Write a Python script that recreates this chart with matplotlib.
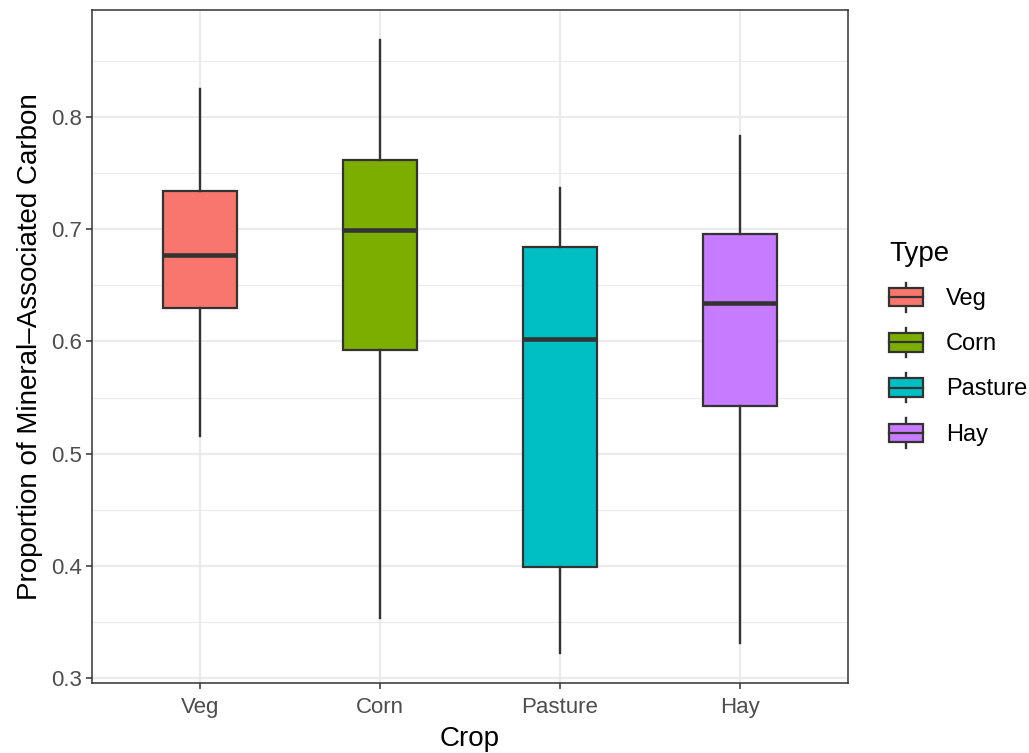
import matplotlib
matplotlib.use("Agg")
import matplotlib.pyplot as plt
from matplotlib.legend_handler import HandlerBase
from matplotlib.patches import Rectangle
from matplotlib.lines import Line2D

plt.rcParams['font.family'] = ['Liberation Sans', 'DejaVu Sans']

crops = ["Veg", "Corn", "Pasture", "Hay"]
colors = ["#F8766D", "#7CAE00", "#00BFC4", "#C77CFF"]

# box stats
whislo = [0.516, 0.353, 0.322, 0.331]
q1 = [0.630, 0.592, 0.399, 0.542]
med = [0.677, 0.699, 0.602, 0.634]
q3 = [0.734, 0.762, 0.684, 0.696]
whishi = [0.825, 0.869, 0.737, 0.783]

edge = "#333333"

fig = plt.figure(figsize=(10.29, 7.53), dpi=100)
ax = fig.add_axes([0.0894, 0.093, 0.7347, 0.8937])

stats = []
for i, c in enumerate(crops):
    stats.append(dict(label=c, whislo=whislo[i], q1=q1[i], med=med[i],
                      q3=q3[i], whishi=whishi[i], fliers=[]))

bp = ax.bxp(stats, positions=range(1, 5), widths=0.41, patch_artist=True,
            showcaps=False,
            boxprops=dict(edgecolor=edge, linewidth=1.6),
            whiskerprops=dict(color=edge, linewidth=1.7),
            medianprops=dict(color=edge, linewidth=3.3, solid_capstyle='butt'),
            zorder=3)
for patch, col in zip(bp['boxes'], colors):
    patch.set_facecolor(col)

ax.set_xlim(0.4, 4.6)
ax.set_ylim(0.2955, 0.8955)
ax.set_yticks([0.3, 0.4, 0.5, 0.6, 0.7, 0.8])
ax.set_yticklabels(["0.3", "0.4", "0.5", "0.6", "0.7", "0.8"])
ax.set_yticks([0.35, 0.45, 0.55, 0.65, 0.75, 0.85], minor=True)
ax.set_xticks(range(1, 5))
ax.set_xticklabels(crops)

ax.grid(True, which='major', color='#EBEBEB', linewidth=1.6, zorder=0)
ax.grid(True, which='minor', axis='y', color='#EBEBEB', linewidth=0.8, zorder=0)
ax.set_axisbelow(True)

ax.tick_params(axis='both', which='major', length=4, width=1.1, color=edge,
               labelsize=16, labelcolor='#4D4D4D', pad=3)
ax.tick_params(axis='x', which='major', pad=6)
ax.tick_params(axis='y', which='minor', length=0)
for sp in ax.spines.values():
    sp.set_color(edge)
    sp.set_linewidth(1.1)

ax.set_xlabel("Crop", fontsize=20, labelpad=6)
ax.set_ylabel("Proportion of Mineral\u2013Associated Carbon", fontsize=20, labelpad=6)


class BoxKey(HandlerBase):
    def create_artists(self, legend, orig_handle, xdescent, ydescent,
                       width, height, fontsize, trans):
        fc = orig_handle.get_facecolor()
        x0 = -xdescent
        y0 = -ydescent
        bh = height * 0.62
        by = y0 + (height - bh) / 2
        cx = x0 + width / 2
        arts = [
            Line2D([cx, cx], [y0, by], color=edge, lw=1.7),
            Line2D([cx, cx], [by + bh, y0 + height], color=edge, lw=1.7),
            Rectangle((x0, by), width, bh, facecolor=fc, edgecolor=edge, lw=1.6),
            Line2D([x0, x0 + width], [by + bh / 2, by + bh / 2], color=edge, lw=1.6),
        ]
        for a in arts:
            a.set_transform(trans)
        return arts


handles = [Rectangle((0, 0), 1, 1, facecolor=c) for c in colors]
leg = fig.legend(handles, crops, title="Type", loc='upper left',
                 bbox_to_anchor=(0.864, 0.680), frameon=False,
                 handler_map={Rectangle: BoxKey()},
                 handlelength=1.45, handleheight=1.55, handletextpad=0.95,
                 labelspacing=0.66, fontsize=17, title_fontsize=20,
                 borderpad=0, borderaxespad=0)
leg._legend_box.align = "left"

fig.savefig("out.png", dpi=100)
